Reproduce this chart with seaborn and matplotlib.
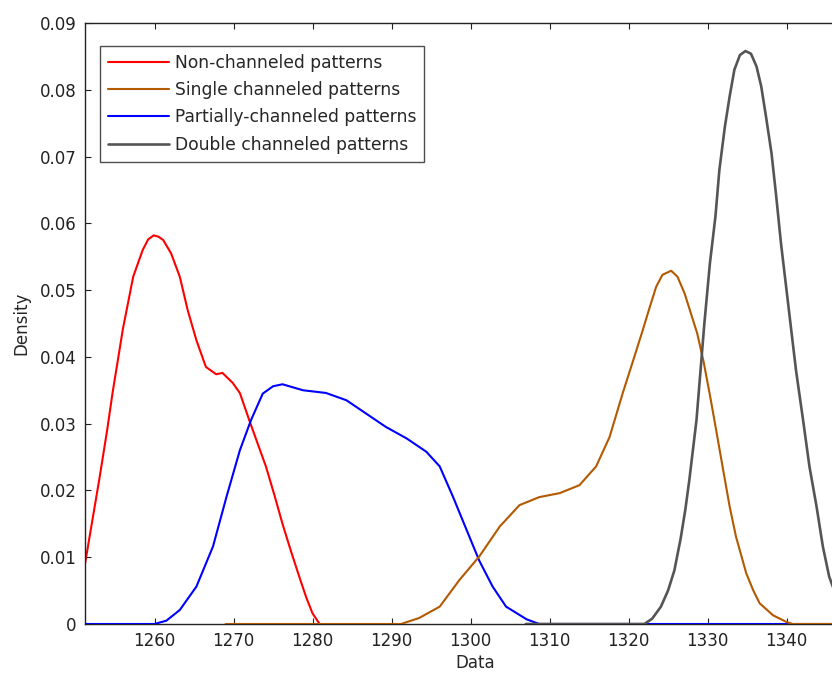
import numpy as np
import pandas as pd
import matplotlib
matplotlib.use("Agg")
import matplotlib.pyplot as plt
from matplotlib.ticker import FixedLocator, MultipleLocator, FuncFormatter
import seaborn as sns

# density curves
red_x = [1251.2, 1252.2, 1253.0, 1254.0, 1254.7, 1256.0, 1257.3, 1258.5, 1259.2, 1259.9,
         1260.5, 1261.1, 1262.1, 1263.2, 1264.2, 1265.3, 1266.5, 1267.8, 1268.6, 1269.9,
         1270.8, 1272.0, 1273.0, 1274.1, 1275.2, 1276.2, 1277.3, 1278.4, 1279.2, 1280.0,
         1280.9]
red_y = [0.0090, 0.0160, 0.0216, 0.0290, 0.0347, 0.0442, 0.0520, 0.0560, 0.0576, 0.0582,
         0.0580, 0.0575, 0.0555, 0.0520, 0.0470, 0.0425, 0.0385, 0.0374, 0.0376, 0.0361,
         0.0346, 0.0305, 0.0272, 0.0236, 0.0192, 0.0150, 0.0108, 0.0068, 0.0040, 0.0016,
         0.0]

brown_x = [1269.0, 1291.2, 1293.5, 1296.1, 1298.6, 1301.1, 1303.7, 1306.2, 1308.7, 1311.3,
           1313.8, 1315.9, 1317.6, 1319.3, 1320.6, 1321.8, 1322.7, 1323.5, 1324.3, 1325.4,
           1326.2, 1327.1, 1327.9, 1328.7, 1329.5, 1330.3, 1331.1, 1331.9, 1332.8, 1333.6,
           1334.9, 1335.8, 1336.6, 1338.3, 1340.0, 1340.8, 1347.0]
brown_y = [0.0, 0.0, 0.0009, 0.0026, 0.0066, 0.0101, 0.0146, 0.0178, 0.0190, 0.0196,
           0.0208, 0.0236, 0.0280, 0.0347, 0.0395, 0.0440, 0.0475, 0.0505, 0.0523, 0.0529,
           0.0520, 0.0495, 0.0465, 0.0435, 0.0393, 0.0343, 0.0290, 0.0236, 0.0176, 0.0131,
           0.0076, 0.0050, 0.0031, 0.0013, 0.0003, 0.0, 0.0]

blue_x = [1251.2, 1260.0, 1261.5, 1263.2, 1265.3, 1267.4, 1269.1, 1270.8, 1272.2, 1273.7,
          1275.0, 1276.2, 1278.8, 1281.7, 1284.3, 1286.8, 1289.3, 1291.9, 1294.4, 1296.1,
          1297.8, 1299.5, 1301.1, 1302.8, 1304.5, 1307.1, 1308.7, 1347.0]
blue_y = [0.0, 0.0, 0.0005, 0.0021, 0.0056, 0.0116, 0.0190, 0.0260, 0.0305, 0.0345,
          0.0356, 0.0359, 0.0350, 0.0346, 0.0335, 0.0315, 0.0295, 0.0278, 0.0258, 0.0236,
          0.0190, 0.0141, 0.0095, 0.0056, 0.0026, 0.0007, 0.0, 0.0]

gray_x = [1307.0, 1322.0, 1323.0, 1324.1, 1325.0, 1325.8, 1326.6, 1327.2, 1327.7, 1328.6,
          1329.6, 1330.3, 1331.0, 1331.5, 1332.2, 1332.8, 1333.4, 1334.1, 1334.8, 1335.5,
          1336.2, 1336.8, 1337.4, 1338.1, 1338.7, 1339.3, 1340.0, 1340.6, 1341.2, 1342.1,
          1342.9, 1343.8, 1344.6, 1345.4, 1346.5]
gray_y = [0.0, 0.0, 0.0008, 0.0026, 0.0050, 0.0080, 0.0128, 0.0172, 0.0216, 0.0305,
          0.0450, 0.0540, 0.0610, 0.0680, 0.0745, 0.0790, 0.0830, 0.0852, 0.0858, 0.0854,
          0.0835, 0.0805, 0.0760, 0.0705, 0.0640, 0.0570, 0.0500, 0.0440, 0.0380, 0.0305,
          0.0236, 0.0176, 0.0116, 0.0071, 0.0035]

labels = ["Non-channeled patterns", "Single channeled patterns",
          "Partially-channeled patterns", "Double channeled patterns"]
colors = ["#ff0000", "#b35900", "#0000ff", "#555555"]
xticks = [1260, 1270, 1280, 1290, 1300, 1310, 1320, 1330, 1340]

series = {
    labels[0]: (red_x, red_y),
    labels[1]: (brown_x, brown_y),
    labels[2]: (blue_x, blue_y),
    labels[3]: (gray_x, gray_y),
}

sns.set_theme(style="white")
plt.rcParams["font.family"] = ["DejaVu Sans"]

fig = plt.figure(figsize=(8.32, 6.74), dpi=100)
xmin, xmax = 1251.2, 1350.0
px_per_unit = 7.9
ax_w = (xmax - xmin) * px_per_unit / 832
ax = fig.add_axes([85 / 832, 50 / 674, ax_w, 601 / 674])

# draw order: red, blue, brown, gray (so baseline pieces overlap like the original)
handles = {}
for name, z in [(labels[0], 2), (labels[2], 3), (labels[1], 4), (labels[3], 5)]:
    xs, ys = series[name]
    df = pd.DataFrame({"Data": xs, "Density": ys})
    c = colors[labels.index(name)]
    lw = 1.9 if name == labels[3] else 1.5
    sns.lineplot(data=df, x="Data", y="Density", ax=ax, color=c, lw=lw,
                 sort=False, estimator=None, label=name, zorder=z)
    handles[name] = ax.lines[-1]

ax.set_xlim(xmin, xmax)
ax.set_ylim(0, 0.09)
ax.xaxis.set_major_locator(FixedLocator(xticks))
ax.yaxis.set_major_locator(MultipleLocator(0.01))
ax.yaxis.set_major_formatter(FuncFormatter(lambda v, p: "0" if abs(v) < 1e-9 else f"{v:.2f}"))
ax.tick_params(direction="in", length=4, width=0.8, top=True, left=True, bottom=True,
               labelsize=12, colors="#222222", pad=6)
for s in ax.spines.values():
    s.set_color("#222222")
    s.set_linewidth(1.0)

ax.set_xlabel("Data", fontsize=12, labelpad=3)
ax.set_ylabel("Density", fontsize=12, labelpad=7)

leg = ax.legend([handles[n] for n in labels], labels, loc="upper left",
                bbox_to_anchor=(100 / 832, 1 - 46 / 674), bbox_transform=fig.transFigure,
                borderaxespad=0, fontsize=12.3, frameon=True, fancybox=False,
                edgecolor="#222222", handlelength=3.6, labelspacing=0.55,
                borderpad=0.45, handletextpad=0.35)
leg.get_frame().set_linewidth(1.0)

fig.savefig("out.png", dpi=100)
